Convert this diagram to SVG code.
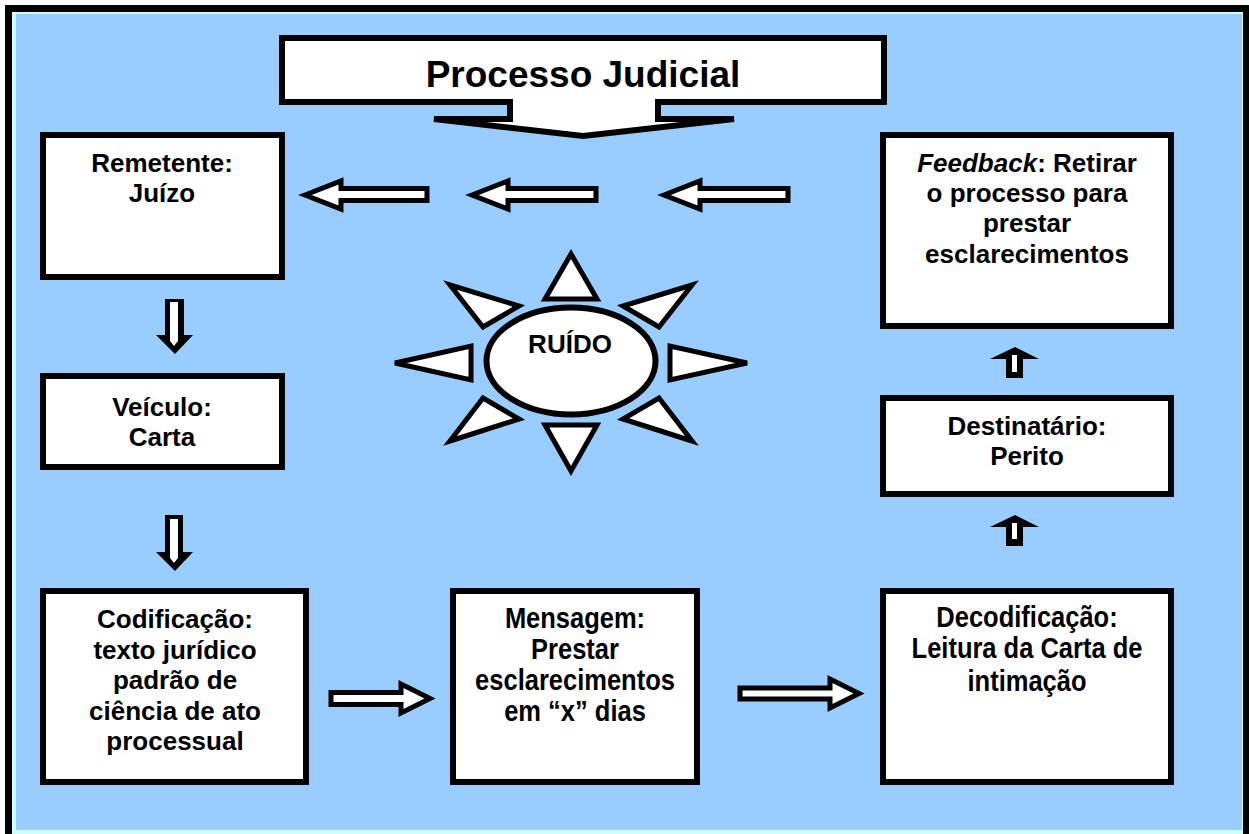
<svg xmlns="http://www.w3.org/2000/svg" width="1249" height="834" viewBox="0 0 1249 834">
  <defs>
    <style>
      .box { fill: #ffffff; stroke: #000000; stroke-width: 6; }
      .arr { fill: #ffffff; stroke: #000000; stroke-width: 5; stroke-linejoin: miter; }
      .ray { fill: #ffffff; stroke: #000000; stroke-width: 5; stroke-linejoin: miter; }
      .t { font-family: "Liberation Sans", Arial, sans-serif; font-weight: bold; font-size: 26px; fill: #000000; text-anchor: middle; }
      .title { font-size: 37px; }
      .tall { font-size: 30px; }
    </style>
  </defs>

  <!-- page frame -->
  <rect x="0" y="0" width="1249" height="834" fill="#ffffff"/>
  <rect x="5" y="5" width="1250" height="840" fill="#000000"/>
  <rect x="12" y="12" width="1231" height="830" fill="#ccffff"/>
  <rect x="16" y="14" width="1226" height="816" fill="#99ccff"/>

  <!-- title callout pointing down -->
  <g id="titulo">
    <path class="box" d="M282,38 H884 V102 H658 V119 H734 L583,136 L434,119 H510 V102 H282 Z"/>
    <text class="t title" x="583" y="87">Processo Judicial</text>
  </g>

  <!-- nodes -->
  <g id="remetente">
    <rect class="box" x="43" y="135" width="239" height="142"/>
    <text class="t" x="162" y="172">Remetente:</text>
    <text class="t" x="162" y="202">Juízo</text>
  </g>

  <g id="veiculo">
    <rect class="box" x="43" y="376" width="239" height="91"/>
    <text class="t" x="162" y="416">Veículo:</text>
    <text class="t" x="162" y="446">Carta</text>
  </g>

  <g id="codificacao">
    <rect class="box" x="43" y="591" width="263" height="191"/>
    <text class="t" x="175" y="628">Codificação:</text>
    <text class="t" x="175" y="659">texto jurídico</text>
    <text class="t" x="175" y="689">padrão de</text>
    <text class="t" x="175" y="720">ciência de ato</text>
    <text class="t" x="175" y="750">processual</text>
  </g>

  <g id="mensagem">
    <rect class="box" x="453" y="591" width="244" height="191"/>
    <g transform="translate(575,0) scale(0.85,1)">
      <text class="t tall" x="0" y="628">Mensagem:</text>
      <text class="t tall" x="0" y="659">Prestar</text>
      <text class="t tall" x="0" y="690">esclarecimentos</text>
      <text class="t tall" x="0" y="721">em “x” dias</text>
    </g>
  </g>

  <g id="decodificacao">
    <rect class="box" x="883" y="591" width="288" height="191"/>
    <g transform="translate(1027,0) scale(0.85,1)">
      <text class="t tall" x="0" y="627">Decodificação:</text>
      <text class="t tall" x="0" y="658">Leitura da Carta de</text>
      <text class="t tall" x="0" y="691">intimação</text>
    </g>
  </g>

  <g id="destinatario">
    <rect class="box" x="883" y="398" width="288" height="96"/>
    <text class="t" x="1027" y="435">Destinatário:</text>
    <text class="t" x="1027" y="465">Perito</text>
  </g>

  <g id="feedback">
    <rect class="box" x="883" y="135" width="288" height="191"/>
    <text class="t" x="1027" y="172"><tspan font-style="italic">Feedback</tspan>: Retirar</text>
    <text class="t" x="1027" y="202">o processo para</text>
    <text class="t" x="1027" y="232">prestar</text>
    <text class="t" x="1027" y="263">esclarecimentos</text>
  </g>

  <!-- noise symbol -->
  <g id="ruido">
    <polygon class="ray" points="571,254 545,299 597,299"/>
    <polygon class="ray" points="571,471 545,425 597,425"/>
    <polygon class="ray" points="395,363 471,346 471,380"/>
    <polygon class="ray" points="747,363 670,346 670,380"/>
    <polygon class="ray" points="450,285 519,306 483,327"/>
    <polygon class="ray" points="692,285 623,306 659,327"/>
    <polygon class="ray" points="450,441 519,419 483,398"/>
    <polygon class="ray" points="692,441 623,419 659,398"/>
    <ellipse class="box" cx="571" cy="361" rx="84.5" ry="53.5" stroke-width="5"/>
    <text class="t" x="570" y="353" font-size="25">RUÍDO</text>
  </g>

  <!-- connectors -->
  <g id="conectores">
    <!-- feedback flow back to the sender -->
    <path class="arr" d="M305,195 L341,181 V188.5 H427 V200.5 H341 V209 Z"/>
    <path class="arr" d="M472,195 L508,181 V188.5 H596 V200.5 H508 V209 Z"/>
    <path class="arr" d="M664,195 L700,181 V188.5 H788 V200.5 H700 V209 Z"/>

    <!-- sender to channel, channel to encoding -->
    <polygon points="165,299 184,299 184,335 193,335 175,354 156,335 165,335" fill="#000000"/>
    <polygon points="170,302 178,302 178,341 174,346 170,341" fill="#ffffff"/>
    <polygon points="165,515 183,515 183,552 193,552 175,571 156,552 165,552" fill="#000000"/>
    <polygon points="170,519 178,519 178,558 174,563 170,558" fill="#ffffff"/>

    <!-- encoding to message to decoding -->
    <path class="arr" d="M331,692.5 H401 V684 L430,698.5 L401,713 V704.5 H331 Z"/>
    <path class="arr" d="M740,688 H830 V679 L859,693.5 L830,708 V699 H740 Z"/>

    <!-- decoding to receiver, receiver to feedback -->
    <polygon points="1015,515 1039,527 1023,527 1023,546 1006,546 1006,527 990,527" fill="#000000"/>
    <polygon points="1012,523 1017,523 1017,539 1012,539" fill="#ffffff"/>
    <polygon points="1015,347 1039,359 1023,359 1023,378 1006,378 1006,359 990,359" fill="#000000"/>
    <polygon points="1012,355 1017,355 1017,372 1012,372" fill="#ffffff"/>
  </g>
</svg>
